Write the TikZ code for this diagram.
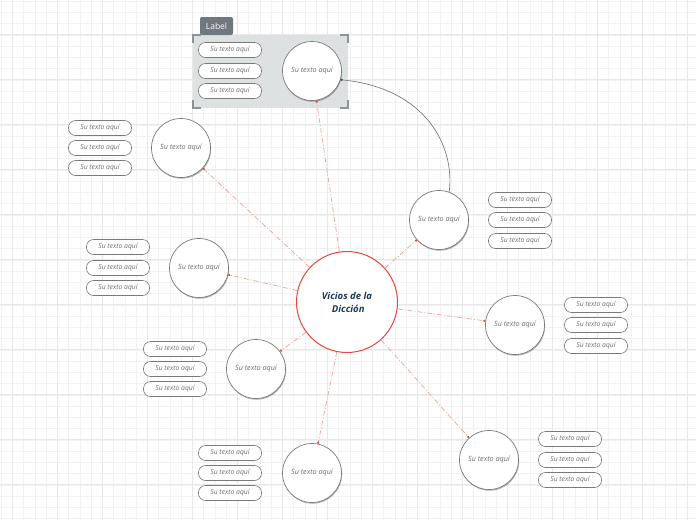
\documentclass[tikz,border=0pt]{standalone}
\usepackage{fontspec}
\setmainfont{Open Sans}
\usetikzlibrary{arrows.meta, shadows}
\definecolor{gridln}{HTML}{F2F2F2}
\definecolor{gridmj}{HTML}{E8E8E8}
\definecolor{vred}{HTML}{E8483C}
\definecolor{lnred}{HTML}{F0A09A}
\definecolor{navy}{HTML}{1E3A56}
\definecolor{txgray}{HTML}{6E6E6E}
\definecolor{bdgray}{HTML}{7A7A7A}
\definecolor{grpfill}{HTML}{DEE1E2}
\definecolor{grpedge}{HTML}{8C9399}
\definecolor{tabgray}{HTML}{6F777F}

\begin{document}
\begin{tikzpicture}[x=1pt, y=-1pt,
  idea/.style={circle, draw=bdgray, fill=white, line width=0.7pt, minimum size=59pt,
    inner sep=0pt, font=\itshape\fontsize{7.2}{8}\selectfont, text=txgray,
    drop shadow={shadow xshift=0.6pt, shadow yshift=-1.2pt, opacity=0.3, fill=black}},
  pill/.style={draw=bdgray, fill=white, rounded corners=7pt, line width=0.6pt,
    minimum width=63pt, minimum height=15pt, inner sep=0pt,
    font=\itshape\fontsize{6.8}{7}\selectfont, text=txgray},
  rama/.style={lnred, line width=0.7pt, dash pattern=on 5pt off 2pt on 1pt off 2pt,
    -{Circle[length=2.2pt, fill=vred, color=vred]}},
  enlace/.style={bdgray, line width=0.7pt, -{Circle[length=2.2pt, fill=black!70, color=black!70]}}]

\useasboundingbox (0,0) rectangle (696,520);

% =====================================================
% Background grid
% =====================================================
\fill[white] (0,0) rectangle (696,520);
\foreach \gx in {0,...,61} {
  \draw[gridln, line width=0.5pt] (1+11.25*\gx,0) -- (1+11.25*\gx,520);
}
\foreach \gy in {0,...,46} {
  \draw[gridln, line width=0.5pt] (0,1+11.25*\gy) -- (696,1+11.25*\gy);
}
\foreach \gx in {0,...,15} {
  \draw[gridmj, line width=0.7pt] (12+45*\gx,0) -- (12+45*\gx,520);
}
\foreach \gy in {0,...,11} {
  \draw[gridmj, line width=0.7pt] (0,34+45*\gy) -- (696,34+45*\gy);
}

% =====================================================
% Label group (top)
% =====================================================
\fill[grpfill] (193,35) rectangle (348,108);
\draw[grpedge, line width=1.5pt] (193,43) -- (193,35) -- (201,35);
\draw[grpedge, line width=1.5pt] (340,35) -- (348,35) -- (348,43);
\draw[grpedge, line width=1.5pt] (193,100) -- (193,108) -- (201,108);
\draw[grpedge, line width=1.5pt] (340,108) -- (348,108) -- (348,100);
\fill[tabgray, rounded corners=2pt] (200,35) -- (200,17) -- (233,17) -- (233,35) -- cycle;
\node[text=white, font=\fontsize{8.5}{9}\selectfont] (etiqueta) at (216.5,26) {Label};

% =====================================================
% Central topic
% =====================================================
\node[circle, draw=vred, fill=white, line width=1pt, minimum size=101pt, inner sep=0pt,
  align=center, text=navy, font=\bfseries\itshape\fontsize{9.5}{13}\selectfont]
  (vicios) at (347,302) {Vicios de la\\ \ Dicción};

% Subtopics
\node[idea] (arriba) at (312,71) {Su texto aquí};
\node[idea] (subA) at (181,148) {Su texto aquí};
\node[idea] (subB) at (199,268) {Su texto aquí};
\node[idea] (subC) at (256,369) {Su texto aquí};
\node[idea] (subD) at (312,473) {Su texto aquí};
\node[idea] (subE) at (489,460) {Su texto aquí};
\node[idea] (subF) at (515,325) {Su texto aquí};
\node[idea] (subG) at (439,220) {Su texto aquí};

% Branches from the central topic
\draw[rama] (vicios) -- (arriba);
\draw[rama] (vicios) -- (subA);
\draw[rama] (vicios) -- (subB);
\draw[rama] (vicios) -- (subC);
\draw[rama] (vicios) -- (subD);
\draw[rama] (vicios) -- (subE);
\draw[rama] (vicios) -- (subF);
\draw[rama] (vicios) -- (subG);

% Relationship curve
\draw[enlace] (subG.70) .. controls (455,145) and (425,88) .. (arriba.-17);

% =====================================================
% Notes beside each subtopic
% =====================================================
\node[pill] (n1a) at (230,50) {Su texto aquí};
\node[pill] (n1b) at (230,71) {Su texto aquí};
\node[pill] (n1c) at (230,91) {Su texto aquí};

\node[pill] (nAa) at (100,128) {Su texto aquí};
\node[pill] (nAb) at (100,148) {Su texto aquí};
\node[pill] (nAc) at (100,168) {Su texto aquí};

\node[pill] (nBa) at (118,247) {Su texto aquí};
\node[pill] (nBb) at (118,268) {Su texto aquí};
\node[pill] (nBc) at (118,288) {Su texto aquí};

\node[pill] (nCa) at (175,349) {Su texto aquí};
\node[pill] (nCb) at (175,369) {Su texto aquí};
\node[pill] (nCc) at (175,389) {Su texto aquí};

\node[pill] (nDa) at (230,453) {Su texto aquí};
\node[pill] (nDb) at (230,473) {Su texto aquí};
\node[pill] (nDc) at (230,493) {Su texto aquí};

\node[pill] (nEa) at (570,439) {Su texto aquí};
\node[pill] (nEb) at (570,460) {Su texto aquí};
\node[pill] (nEc) at (570,480) {Su texto aquí};

\node[pill] (nFa) at (596,305) {Su texto aquí};
\node[pill] (nFb) at (596,325) {Su texto aquí};
\node[pill] (nFc) at (596,346) {Su texto aquí};

\node[pill] (nGa) at (520,200) {Su texto aquí};
\node[pill] (nGb) at (520,220) {Su texto aquí};
\node[pill] (nGc) at (520,241) {Su texto aquí};

\end{tikzpicture}
\end{document}
